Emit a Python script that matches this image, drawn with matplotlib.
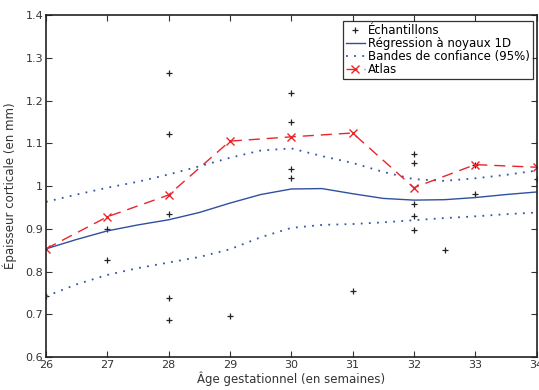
import matplotlib
matplotlib.use("Agg")
import matplotlib.pyplot as plt

# Samples (Échantillons)
sample_age = [26, 27, 27, 28, 28, 28, 28, 28, 29, 30, 30, 30, 30, 31,
              32, 32, 32, 32, 32, 32.5, 33, 33, 34]
sample_thk = [0.743, 0.900, 0.827, 1.264, 1.122, 0.934, 0.738, 0.687, 0.696,
              1.217, 1.150, 1.040, 1.019, 0.754,
              1.074, 1.053, 0.959, 0.929, 0.897, 0.851, 1.050, 0.981, 1.017]

# Kernel regression curve and confidence bands
curve_age = [26, 26.5, 27, 27.5, 28, 28.5, 29, 29.5, 30, 30.5, 31, 31.5,
             32, 32.5, 33, 33.5, 34]
reg = [0.853, 0.875, 0.895, 0.909, 0.921, 0.938, 0.960, 0.980, 0.993, 0.994,
       0.982, 0.971, 0.967, 0.968, 0.973, 0.980, 0.986]
upper = [0.963, 0.980, 0.996, 1.010, 1.027, 1.046, 1.066, 1.083, 1.088, 1.070,
         1.054, 1.033, 1.016, 1.012, 1.018, 1.026, 1.036]
lower = [0.742, 0.770, 0.792, 0.808, 0.821, 0.834, 0.852, 0.880, 0.902, 0.909,
         0.911, 0.915, 0.920, 0.925, 0.929, 0.934, 0.938]

# Atlas
atlas_age = [26, 27, 28, 29, 30, 31, 32, 33, 34]
atlas_thk = [0.853, 0.928, 0.979, 1.105, 1.115, 1.124, 0.996, 1.050, 1.044]

xticks = [26, 27, 28, 29, 30, 31, 32, 33, 34]
yticks = [0.6, 0.7, 0.8, 0.9, 1.0, 1.1, 1.2, 1.3, 1.4]
ytick_labels = ["0.6", "0.7", "0.8", "0.9", "1", "1.1", "1.2", "1.3", "1.4"]

plt.rcParams['font.family'] = ['DejaVu Sans']
fig = plt.figure(figsize=(5.39, 3.90), dpi=100)
ax = fig.add_axes([0.0853, 0.0846, 0.9101, 0.8769])

ax.plot(sample_age, sample_thk, linestyle='none', marker='+', color='#222222',
        markersize=5, markeredgewidth=0.9, label='Échantillons')
ax.plot(curve_age, reg, '-', color='#2f4fa0', linewidth=1.0,
        label='Régression à noyaux 1D')
ax.plot(curve_age, upper, linestyle=(0, (1, 3.5)), color='#3355aa',
        linewidth=1.3, label='Bandes de confiance (95%)')
ax.plot(curve_age, lower, linestyle=(0, (1, 3.5)), color='#3355aa',
        linewidth=1.3)
ax.plot(atlas_age, atlas_thk, color='#e8262b', linewidth=1.0,
        linestyle=(0, (8, 5)), marker='x', markersize=6, markeredgewidth=1.0,
        label='Atlas')

ax.set_xlim(26, 34)
ax.set_ylim(0.6, 1.4)
ax.set_xticks(xticks)
ax.set_yticks(yticks)
ax.set_yticklabels(ytick_labels)
ax.tick_params(direction='in', top=True, right=True, length=4, width=0.8,
               labelsize=8, colors='#333333', pad=2)
for s in ax.spines.values():
    s.set_linewidth(1.2)
    s.set_color('#222222')

ax.set_xlabel('Âge gestationnel (en semaines)', fontsize=8.5, color='#333333',
              labelpad=1)
ax.set_ylabel('Épaisseur corticale (en mm)', fontsize=8.5, color='#333333',
              labelpad=6)

leg = ax.legend(loc='upper right', bbox_to_anchor=(0.993, 0.982), fontsize=8.5,
                frameon=True, fancybox=False, handlelength=1.6,
                handletextpad=0.3, borderpad=0.25, labelspacing=0.0,
                borderaxespad=0.0)
leg.get_frame().set_edgecolor('black')
leg.get_frame().set_linewidth(0.9)

fig.savefig('out.png', dpi=100)
